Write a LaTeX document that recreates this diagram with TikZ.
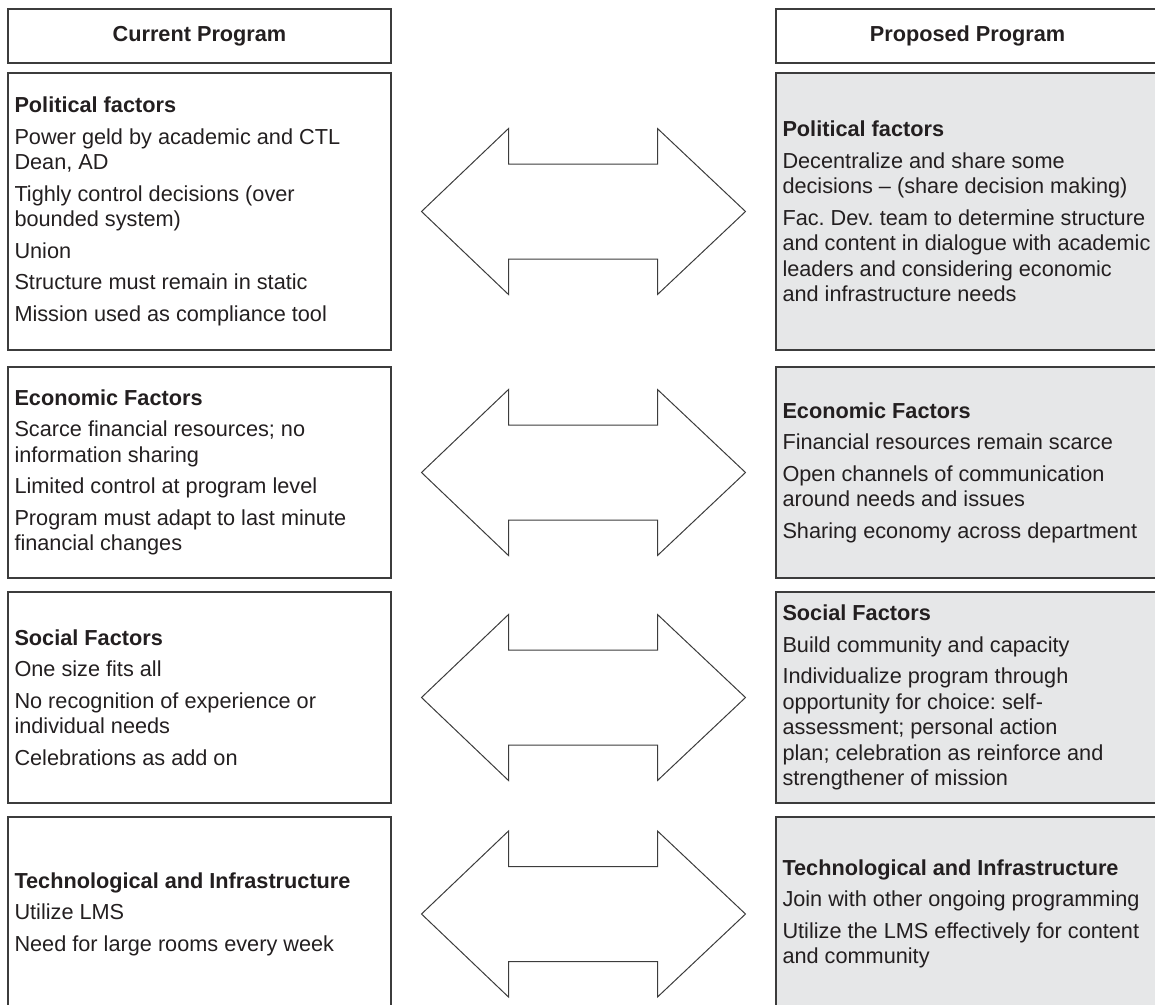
\documentclass[tikz,border=0pt]{standalone}
\usepackage{fontspec}
\setmainfont{Liberation Sans}
\usetikzlibrary{calc}
\definecolor{boxline}{HTML}{3C3C3C}
\definecolor{propfill}{HTML}{E6E7E8}
\definecolor{inktext}{HTML}{231F20}
\begin{document}
\begin{tikzpicture}[line cap=round,line join=miter,x=1pt,y=-1pt,
	hdrbox/.style={draw=boxline,line width=1.3pt,minimum width=383pt,minimum height=54pt,inner sep=0pt,text=inktext,font=\fontsize{21.7}{25.5}\selectfont\bfseries},
	curbox/.style={draw=boxline,line width=1.3pt,text width=370pt,inner xsep=6.5pt,inner ysep=0pt,align=left,text=inktext,font=\fontsize{21.7}{25.5}\selectfont,
		execute at begin node={\spaceskip=0pt\xspaceskip=0pt\frenchspacing\hyphenpenalty=10000\exhyphenpenalty=10000}},
	propbox/.style={curbox,fill=propfill},
	twoarrow/.style={draw=boxline,line width=1pt}]
	\useasboundingbox (0,0) rectangle (1155,1004);
	\clip (0,0) rectangle (1155,1004);
	% column headers
	\node[hdrbox] (curhead) at (199.5,36) {Current Program};
	\node[hdrbox] (prophead) at (967.5,36) {Proposed Program};
	% current program
	\node[curbox,minimum height=277pt] (cur1) at (199.5,211.5) {\textbf{Political factors}\\[6pt]
		Power geld by academic and CTL\\Dean, AD\\[6pt]
		Tighly control decisions (over\\bounded system)\\[6pt]
		Union\\[6pt]
		Structure must remain in static\\[6pt]
		Mission used as compliance tool};
	\node[curbox,minimum height=211pt] (cur2) at (199.5,472.5) {\textbf{Economic Factors}\\[6pt]
		Scarce financial resources; no\\information sharing\\[6pt]
		Limited control at program level\\[6pt]
		Program must adapt to last minute\\financial changes};
	\node[curbox,minimum height=211pt] (cur3) at (199.5,697.5) {\textbf{Social Factors}\\[6pt]
		One size fits all\\[6pt]
		No recognition of experience or\\individual needs\\[6pt]
		Celebrations as add on};
	\node[curbox,minimum height=194pt] (cur4) at (199.5,914) {\textbf{Technological and Infrastructure}\\[6pt]
		Utilize LMS\\[6pt]
		Need for large rooms every week};
	% proposed program
	\node[propbox,minimum height=277pt] (prop1) at (967.5,211.5) {\textbf{Political factors}\\[6pt]
		Decentralize and share some\\decisions -- (share decision making)\\[6pt]
		Fac. Dev. team to determine structure\\and content in dialogue with academic\\leaders and considering economic\\and infrastructure needs};
	\node[propbox,minimum height=211pt] (prop2) at (967.5,472.5) {\textbf{Economic Factors}\\[6pt]
		Financial resources remain scarce\\[6pt]
		Open channels of communication\\around needs and issues\\[6pt]
		Sharing economy across department};
	\node[propbox,minimum height=211pt] (prop3) at (967.5,697.5) {\textbf{Social Factors}\\[6pt]
		Build community and capacity\\[6pt]
		Individualize program through\\opportunity for choice: self-\\assessment; personal action\\plan; celebration as reinforce and\\strengthener of mission};
	\node[propbox,minimum height=194pt] (prop4) at (967.5,914) {\textbf{Technological and Infrastructure}\\[6pt]
		Join with other ongoing programming\\[6pt]
		Utilize the LMS effectively for content\\and community};
	% double arrows between the columns
	\foreach \i in {1,...,4}
		\draw[twoarrow,shift={($(cur\i.east)!0.5!(prop\i.west)$)}] (-162,0) -- (-75,-83) -- (-75,-47.5) -- (74,-47.5) -- (74,-83) -- (162,0) -- (74,83) -- (74,47.5) -- (-75,47.5) -- (-75,83) -- cycle;
\end{tikzpicture}
\end{document}
